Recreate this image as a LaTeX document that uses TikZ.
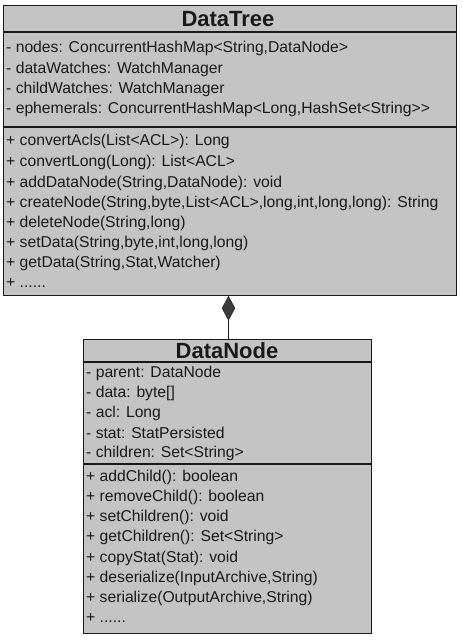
\documentclass[tikz,border=0pt]{standalone}
\usepackage{fontspec}
\setmainfont{Liberation Sans}
\usetikzlibrary{shapes.geometric}
\definecolor{boxfill}{RGB}{196,196,196}
\definecolor{ink}{RGB}{25,25,25}
\tikzset{
  umlbox/.style={draw=ink, line width=1.4pt, fill=boxfill, anchor=north west, inner sep=0pt},
  sep/.style={draw=ink, line width=1.4pt},
  member/.style={anchor=west, inner sep=0pt, text=ink, font=\fontsize{15.7}{15.7}\selectfont},
  title/.style={inner sep=0pt, text=ink, font=\fontsize{22}{22}\selectfont\bfseries},
  comp/.style={diamond, fill=ink!85, draw=ink, inner sep=0pt, minimum width=13pt, minimum height=24pt},
  link/.style={draw=ink, line width=1.2pt}
}
\begin{document}
\begin{tikzpicture}[x=1pt,y=-1pt]
\useasboundingbox (0,0) rectangle (463,640);
% DataTree
\node[umlbox, minimum width=453pt, minimum height=290pt] (tree) at (3,5) {};
\draw[sep] (3,32) -- (456,32);
\draw[sep] (3,127) -- (456,127);
\node[title] (treetitle) at (228,19) {DataTree};
\node[member] (ta1) at (6,48) {- nodes: ConcurrentHashMap<String,DataNode>};
\node[member] (ta2) at (6,69) {- dataWatches: WatchManager};
\node[member] (ta3) at (6,89) {- childWatches: WatchManager};
\node[member] (ta4) at (6,109) {- ephemerals: ConcurrentHashMap<Long,HashSet<String>\kern0pt>};
\node[member] (tm1) at (6,141) {+ convertAcls(List<ACL>): Long};
\node[member] (tm2) at (6,162) {+ convertLong(Long): List<ACL>};
\node[member] (tm3) at (6,183) {+ addDataNode(String,DataNode): void};
\node[member] (tm4) at (6,203) {+ createNode(String,byte,List<ACL>,long,int,long,long): String};
\node[member] (tm5) at (6,223) {+ deleteNode(String,long)};
\node[member] (tm6) at (6,243) {+ setData(String,byte,int,long,long)};
\node[member] (tm7) at (6,263) {+ getData(String,Stat,Watcher)};
\node[member] (tm8) at (6,283) {+ ......};
% DataNode
\node[umlbox, minimum width=288pt, minimum height=294pt] (dn) at (83,339) {};
\draw[sep] (83,362) -- (371,362);
\draw[sep] (83,464) -- (371,464);
\node[title] (dntitle) at (227,351) {DataNode};
\node[member] (da1) at (86,373) {- parent: DataNode};
\node[member] (da2) at (86,393) {- data: byte[]};
\node[member] (da3) at (86,413) {- acl: Long};
\node[member] (da4) at (86,433) {- stat: StatPersisted};
\node[member] (da5) at (86,453) {- children: Set<String>};
\node[member] (dm1) at (86,477) {+ addChild(): boolean};
\node[member] (dm2) at (86,497) {+ removeChild(): boolean};
\node[member] (dm3) at (86,517) {+ setChildren(): void};
\node[member] (dm4) at (86,537) {+ getChildren(): Set<String>};
\node[member] (dm5) at (86,558) {+ copyStat(Stat): void};
\node[member] (dm6) at (86,578) {+ deserialize(InputArchive,String)};
\node[member] (dm7) at (86,598) {+ serialize(OutputArchive,String)};
\node[member] (dm8) at (86,618) {+ ......};
% composition
\node[comp, anchor=north] (dia) at (228.5,296) {};
\draw[link] (dia.south) -- (dia.south |- dn.north);
\end{tikzpicture}
\end{document}
